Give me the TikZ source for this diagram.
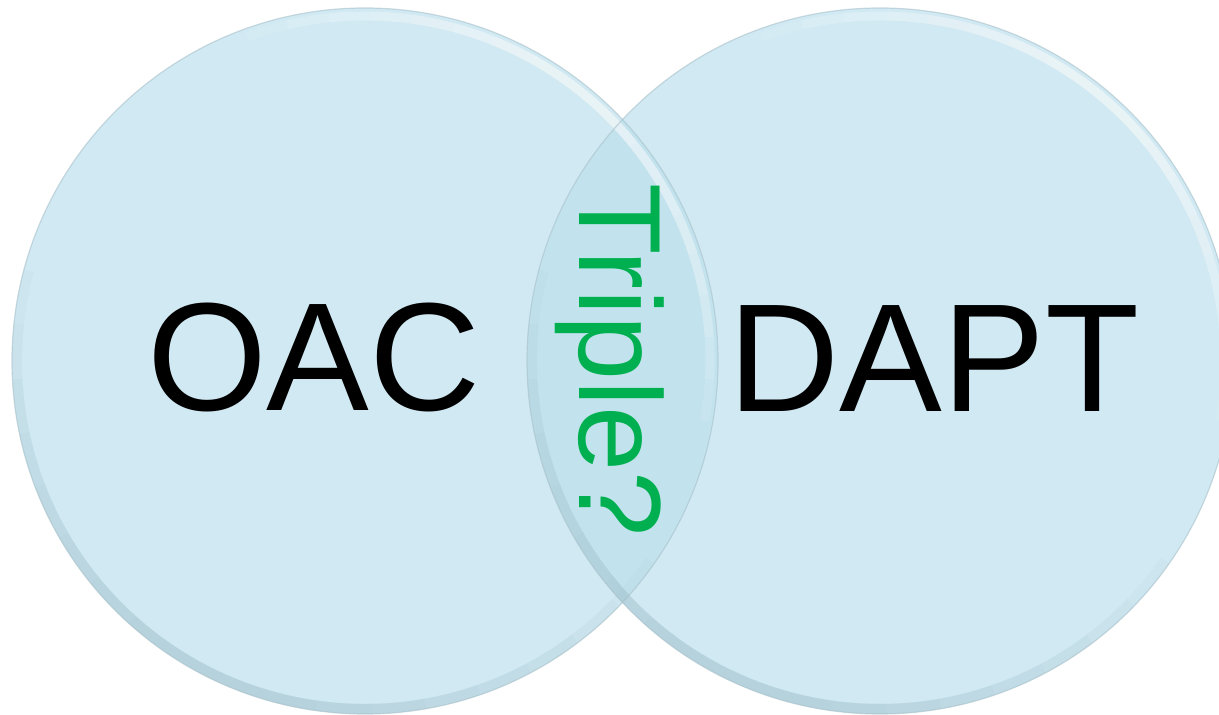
\documentclass[tikz,border=0pt]{standalone}
\usepackage{fontspec}
\setmainfont{Liberation Sans}
\definecolor{cfill}{HTML}{D1E9F3}
\definecolor{lensfill}{HTML}{C2E3EE}
\definecolor{rim}{HTML}{A9C2CA}
\definecolor{rimdark}{HTML}{9EBFCA}
\definecolor{tgreen}{HTML}{00B050}
\tikzset{
  venn/.style={fill=cfill},
  ring/.style={draw=rim, line width=1.2pt},
  big/.style={font=\fontsize{154}{160}\selectfont, text=black, inner sep=0pt},
  mid/.style={font=\fontsize{117}{120}\selectfont, text=tgreen, inner sep=0pt, rotate=-90}
}
\begin{document}
\begin{tikzpicture}[x=1pt,y=1pt]
\useasboundingbox (0,0) rectangle (1219,715);
\coordinate (cl) at (365,354);
\coordinate (cr) at (880,354);
% circles
\fill[venn] (cl) circle (353);
\fill[venn] (cr) circle (353);
% lens
\begin{scope}
  \clip (cl) circle (353);
  \fill[lensfill] (cr) circle (353);
\end{scope}
% glassy rims (faded by stacking arcs)
\foreach \c in {cl,cr}{
  \begin{scope}
    \clip (\c) circle (353);
    \foreach \k in {0,...,7}{
      \pgfmathsetmacro{\hw}{80-9*\k}
      \pgfmathsetmacro{\sa}{245-\hw}
      \pgfmathsetmacro{\ea}{245+\hw}
      \draw[rimdark, opacity=0.08, line width=12pt] ([shift={(\sa:349)}]\c) arc (\sa:\ea:349);
      \pgfmathsetmacro{\hwb}{60-7*\k}
      \pgfmathsetmacro{\sb}{50-\hwb}
      \pgfmathsetmacro{\eb}{50+\hwb}
      \draw[white, opacity=0.10, line width=9pt] ([shift={(\sb:345)}]\c) arc (\sb:\eb:345);
    }
  \end{scope}
}
\draw[ring, opacity=0.6] (cl) circle (353);
\draw[ring, opacity=0.6] (cr) circle (353);
% texts
\node[big, anchor=base] (oac) at (314,304) {OAC};
\node[big, anchor=base] (dapt) at (934,303) {DAPT};
\node[mid, anchor=base] (triple) at (579,355) {Triple?};
\end{tikzpicture}
\end{document}
